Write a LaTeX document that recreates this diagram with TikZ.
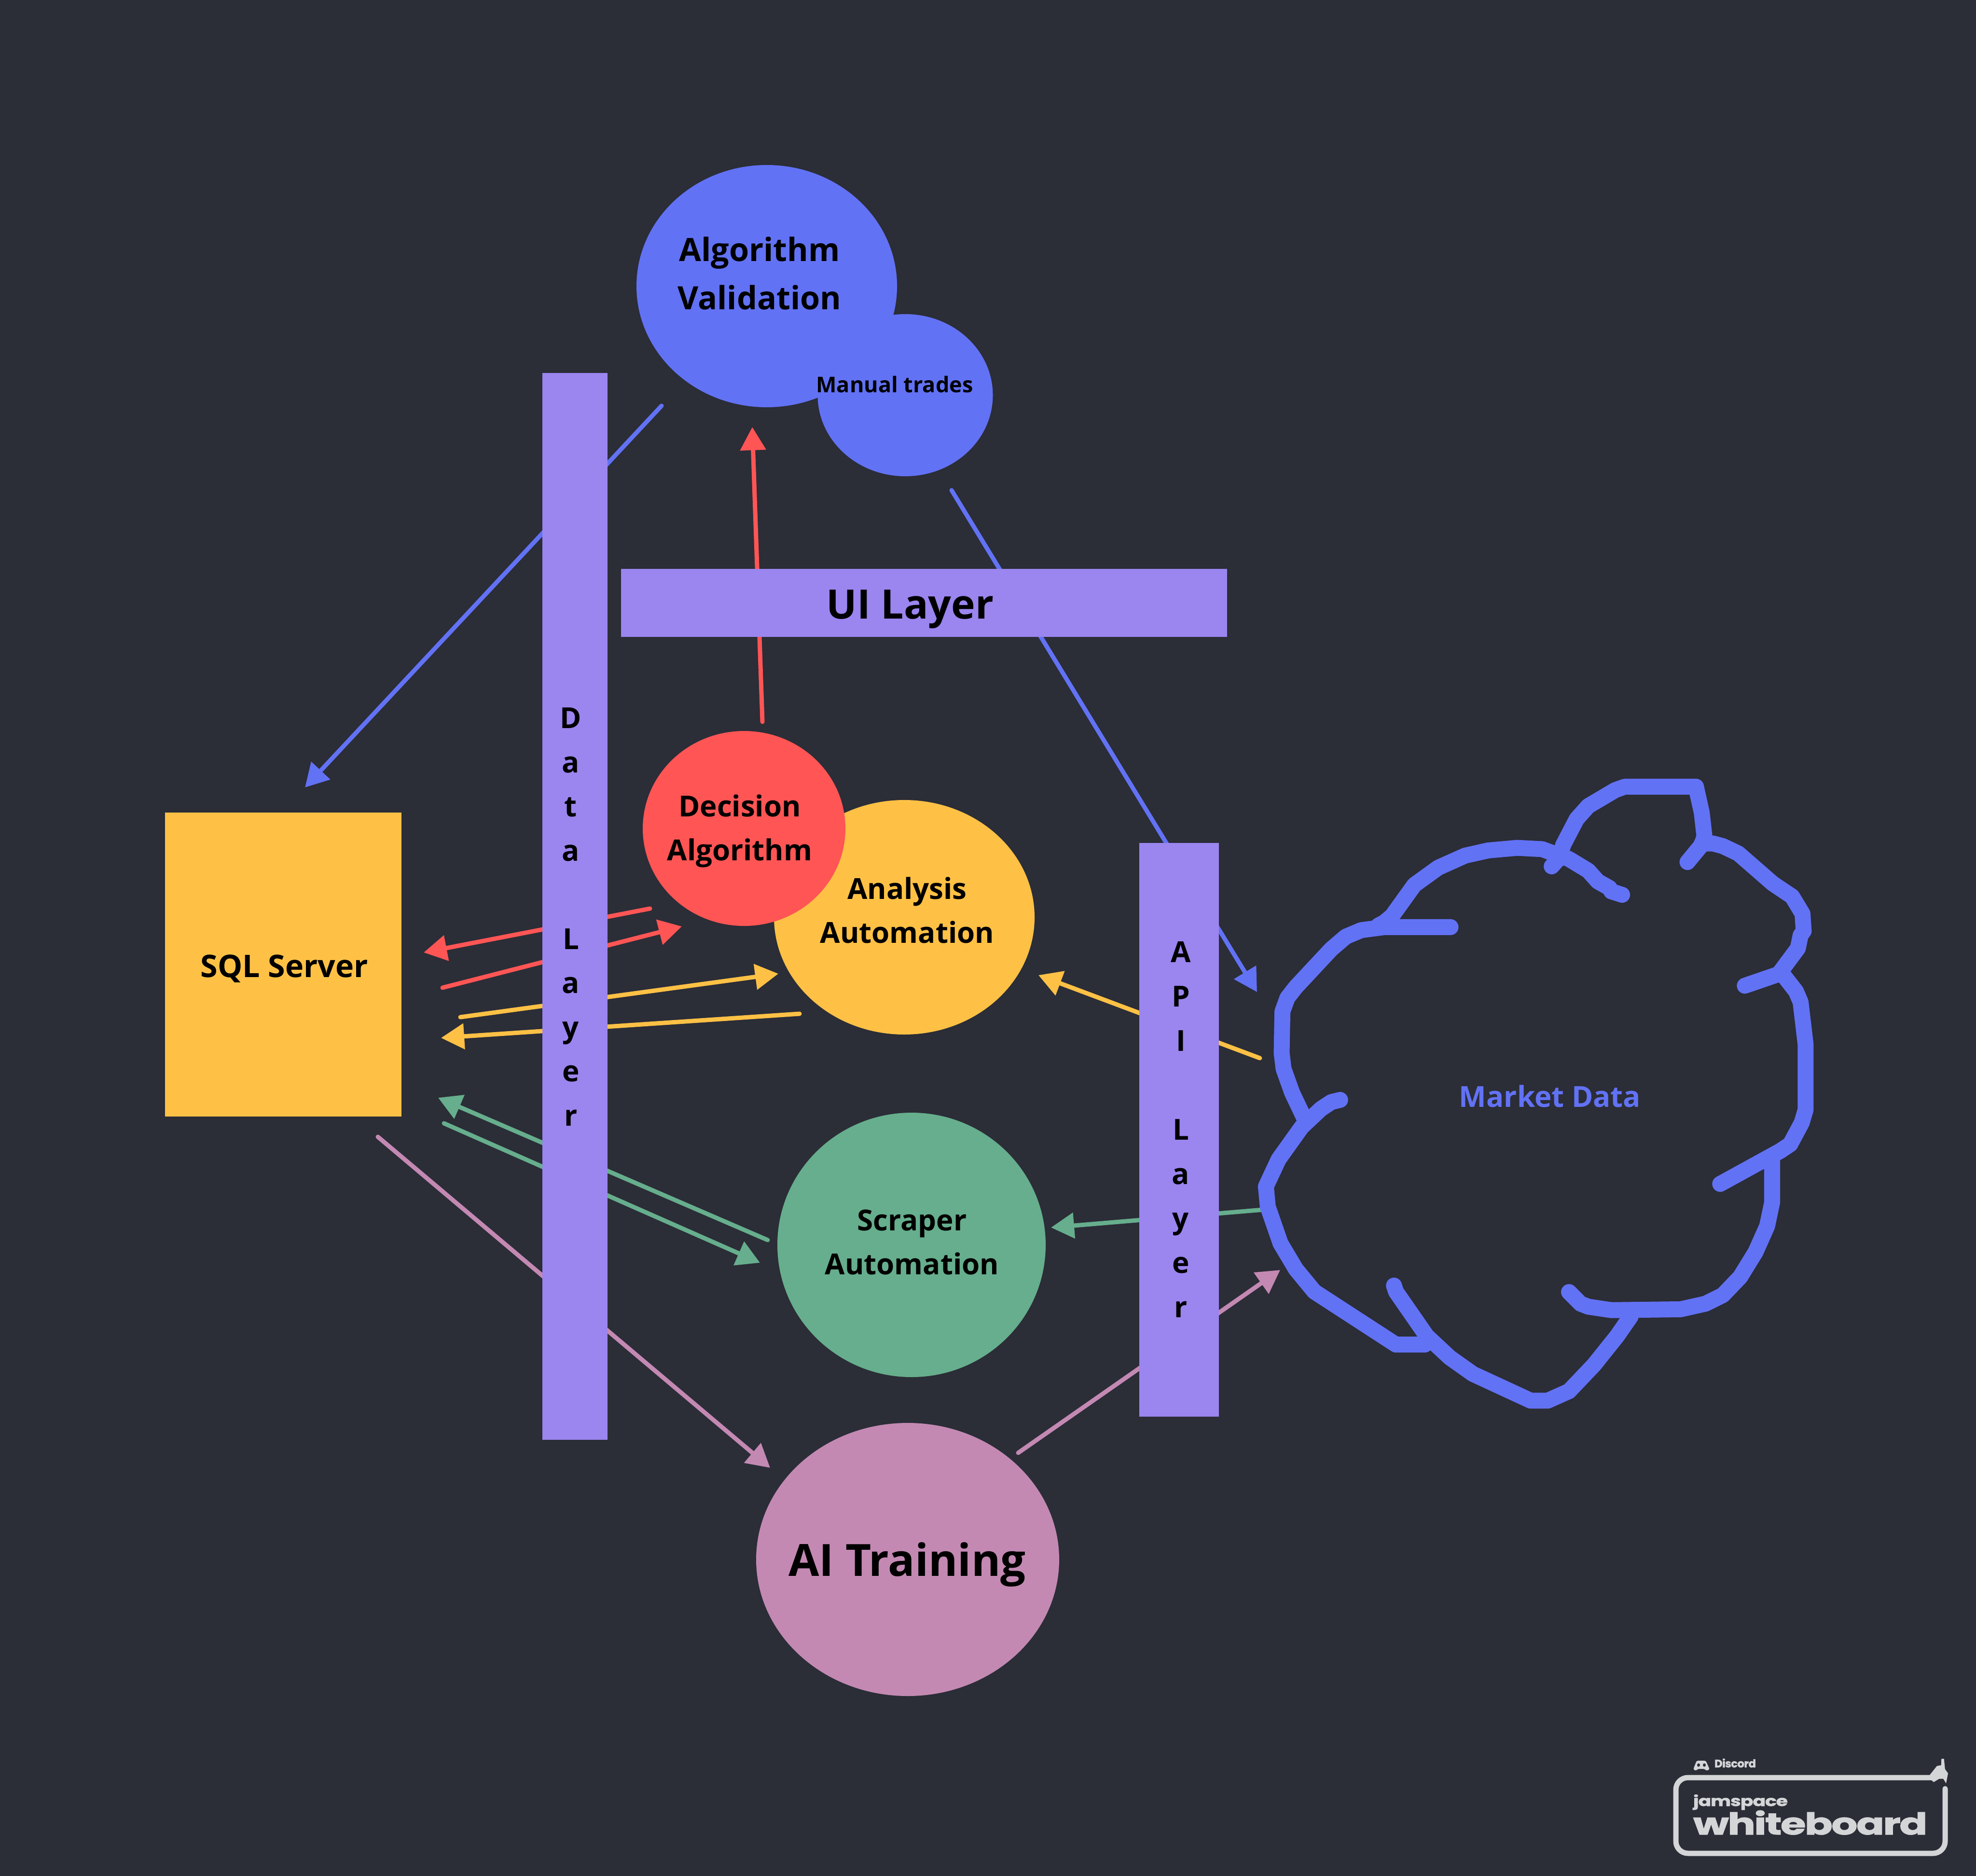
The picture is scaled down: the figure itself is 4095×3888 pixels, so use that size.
\documentclass[tikz,border=0pt]{standalone}
\usepackage{fontspec}
\setmainfont{Open Sans}
\newfontfamily\logofont{Poppins}[LetterSpace=-3,BoldFeatures={FakeBold=1.5}]
\usetikzlibrary{arrows.meta,shapes.geometric}
\definecolor{bgc}{HTML}{2B2D37}
\definecolor{blurple}{HTML}{6272F5}
\definecolor{ambr}{HTML}{FFC145}
\definecolor{redc}{HTML}{FF5555}
\definecolor{greenc}{HTML}{66AE8D}
\definecolor{pinkc}{HTML}{C389B3}
\definecolor{violetc}{HTML}{9B85EF}
\definecolor{logoc}{HTML}{D4D5D7}
\tikzset{
  blob/.style={ellipse,inner sep=0pt,outer sep=0pt,fill=#1},
  layerbar/.style={rectangle,inner sep=0pt,outer sep=0pt,fill=violetc},
  conn/.style={draw=#1,line width=9pt,line cap=round,-{Triangle[length=48pt,width=52pt,fill=#1]}},
  inktrace/.style={draw=blurple,line width=33pt,line cap=round,line join=round},
}
\newcommand{\sized}[3]{\node[inner sep=0pt,outer sep=0pt,text=black,align=center,font={\fontsize{#1}{#2}\selectfont\bfseries}] #3}
\begin{document}
\begin{tikzpicture}[x=1pt,y=-1pt]
\useasboundingbox (0,0) rectangle (4095,3888);
\fill[bgc] (0,0) rectangle (4095,3888);
% connector ends
\coordinate (b1s) at (1371,841); \coordinate (b1e) at (632,1632);
\coordinate (b2s) at (1972,1016); \coordinate (b2e) at (2605,2056);
\coordinate (r0s) at (1580,1496); \coordinate (r0e) at (1559,885);
\coordinate (r1s) at (1347,1883); \coordinate (r1e) at (878,1974);
\coordinate (r2s) at (917,2047); \coordinate (r2e) at (1413,1920);
\coordinate (y1s) at (954,2108); \coordinate (y1e) at (1613,2018);
\coordinate (y2s) at (1657,2101); \coordinate (y2e) at (914,2151);
\coordinate (y3s) at (2611,2193); \coordinate (y3e) at (2152,2021);
\coordinate (g1s) at (1591,2570); \coordinate (g1e) at (908,2275);
\coordinate (g2s) at (920,2328); \coordinate (g2e) at (1575,2617);
\coordinate (g3s) at (2618,2507); \coordinate (g3e) at (2178,2544);
\coordinate (p1s) at (783,2356); \coordinate (p1e) at (1596,3042);
\coordinate (p2s) at (2110,3011); \coordinate (p2e) at (2653,2632);
\draw[conn=blurple] (b1s) -- (b1e);
\draw[conn=blurple] (b2s) -- (b2e);
\draw[conn=redc] (r0s) -- (r0e);
\draw[conn=redc] (r1s) -- (r1e);
\draw[conn=redc] (r2s) -- (r2e);
\draw[conn=ambr] (y1s) -- (y1e);
\draw[conn=ambr] (y2s) -- (y2e);
\draw[conn=ambr] (y3s) -- (y3e);
\draw[conn=greenc] (g1s) -- (g1e);
\draw[conn=greenc] (g2s) -- (g2e);
\draw[conn=greenc] (g3s) -- (g3e);
\draw[conn=pinkc] (p1s) -- (p1e);
\draw[conn=pinkc] (p2s) -- (p2e);
% shapes
\node[blob=blurple,minimum width=540pt,minimum height=502pt] (algo) at (1589,593) {};
\node[blob=blurple,minimum width=363pt,minimum height=336pt] (manual) at (1876,819) {};
\node[blob=ambr,minimum width=540pt,minimum height=486pt] (analysis) at (1874,1901) {};
\node[blob=redc,minimum width=420pt,minimum height=404pt] (decision) at (1542,1717) {};
\node[blob=greenc,minimum width=556pt,minimum height=548pt] (scraper) at (1889,2580) {};
\node[blob=pinkc,minimum width=628pt,minimum height=566pt] (ai) at (1881,3232) {};
\node[rectangle,inner sep=0pt,outer sep=0pt,fill=ambr,minimum width=490pt,minimum height=630pt] (sql) at (587,1999) {};
\node[layerbar,minimum width=135pt,minimum height=2211pt] (data) at (1191.5,1878.5) {};
\node[layerbar,minimum width=1256pt,minimum height=141pt] (ui) at (1915,1249.5) {};
\node[layerbar,minimum width=165pt,minimum height=1189pt] (api) at (2443.5,2341.5) {};
% labels
\sized{66.5}{100} (algotxt) at (1574,567) {Algorithm\\Validation};
\sized{45}{60} (manualtxt) at (1854,797) {Manual trades};
\sized{84}{100} (uitxt) at (1886,1263) {UI Layer};
\sized{60}{91} (decisiontxt) at (1533,1722) {Decision\\Algorithm};
\sized{60}{91} (analysistxt) at (1880,1886) {Analysis\\Automation};
\sized{60}{91} (scrapertxt) at (1890,2575) {Scraper\\Automation};
\sized{64.5}{91} (sqltxt) at (589,2008) {SQL Server};
\sized{92}{100} (aitxt) at (1880,3243) {AI Training};
\node[inner sep=0pt,outer sep=0pt,text=blurple,font={\fontsize{60}{70}\selectfont\bfseries}] (markettxt) at (3212,2272) {Market Data};
\sized{60}{91.5} (datatxt) at (1183,1900) {D\\a\\t\\a\\ \\L\\a\\y\\e\\r};
\sized{60}{92} (apitxt) at (2447,2341) {A\\P\\I\\ \\L\\a\\y\\e\\r};
% hand drawn cloud
\begin{scope}[shift={(2550pt,-1550pt)},x=0.7972pt,y=-0.8929pt]
\draw[inktrace] (572,416) -- (400,416) -- (340,423) -- (300,438) -- (262,467) -- (170,555) -- (148,580) -- (135,612) -- (133,708) -- (138,745) -- (160,800) -- (192,860);
\draw[inktrace] (285,817) -- (262,822) -- (235,838) -- (185,880) -- (125,955) -- (92,1018) -- (97,1065) -- (130,1150) -- (170,1210) -- (218,1262) -- (430,1385) -- (505,1385);
\draw[inktrace] (425,1248) -- (430,1262) -- (510,1365) -- (570,1415) -- (630,1453) -- (780,1515) -- (825,1515) -- (880,1493) -- (945,1432) -- (1005,1365) -- (1040,1320);
\draw[inktrace] (880,1263) -- (910,1290) -- (930,1297) -- (990,1305) -- (1170,1303) -- (1235,1290) -- (1280,1270) -- (1325,1228) -- (1365,1170) -- (1395,1110) -- (1408,1055) -- (1408,950);
\draw[inktrace] (1273,1012) -- (1430,935) -- (1455,920) -- (1485,870) -- (1495,840) -- (1495,688) -- (1482,590) -- (1470,565) -- (1435,525);
\draw[inktrace] (1337,552) -- (1425,525) -- (1475,465) -- (1482,435) -- (1490,425) -- (1487,385) -- (1460,345) -- (1410,315) -- (1320,245) -- (1280,228) -- (1255,222) -- (1225,222);
\draw[inktrace] (1188,265) -- (1225,225) -- (1232,205) -- (1225,150) -- (1210,90) -- (1025,90) -- (1000,98) -- (930,135) -- (900,165) -- (865,225) -- (855,255) -- (835,275);
\draw[inktrace] (1018,341) -- (990,333) -- (985,325) -- (955,310) -- (930,285) -- (880,258) -- (810,235) -- (745,232) -- (670,238) -- (610,250) -- (540,278) -- (478,318) -- (420,390) -- (400,405) -- (385,412);
\end{scope}
% logo
\draw[logoc,line width=11pt,line cap=round,rounded corners=25pt] (4031,3707) -- (4031,3841) -- (3473,3841) -- (3473,3684) -- (4008,3684);
\begin{scope}[shift={(3400pt,-3600pt)},x=0.4433pt,y=-0.3333pt]
\fill[logoc] (1352,235) -- (1385,180) -- (1405,175) -- (1406,135) -- (1418,135) -- (1423,200) -- (1437,225) -- (1428,288) -- (1415,260) -- (1395,260) -- (1370,280) -- (1352,260) -- cycle;
\end{scope}
\fill[logoc,rounded corners=3pt] (3516,3649) -- (3535,3649) -- (3543,3667) -- (3536,3670) -- (3533,3666) -- (3518,3666) -- (3515,3670) -- (3509,3667) -- cycle;
\fill[bgc] (3520,3658) ellipse[x radius=3,y radius=3.5];
\fill[bgc] (3532,3658) ellipse[x radius=3,y radius=3.5];
\node[anchor=base west,inner sep=0pt,outer sep=0pt,text=logoc] (lgd) at (3553,3663) {\resizebox{86pt}{!}{\logofont\bfseries Discord}};
\node[anchor=base west,inner sep=0pt,outer sep=0pt,text=logoc] (lgj) at (3509,3743) {\resizebox*{196pt}{32pt}{\logofont\bfseries jamspace}};
\node[anchor=base west,inner sep=0pt,outer sep=0pt,text=logoc] (lgw) at (3509,3802) {\resizebox{485pt}{50pt}{\logofont\bfseries whiteboard}};
\end{tikzpicture}
\end{document}
